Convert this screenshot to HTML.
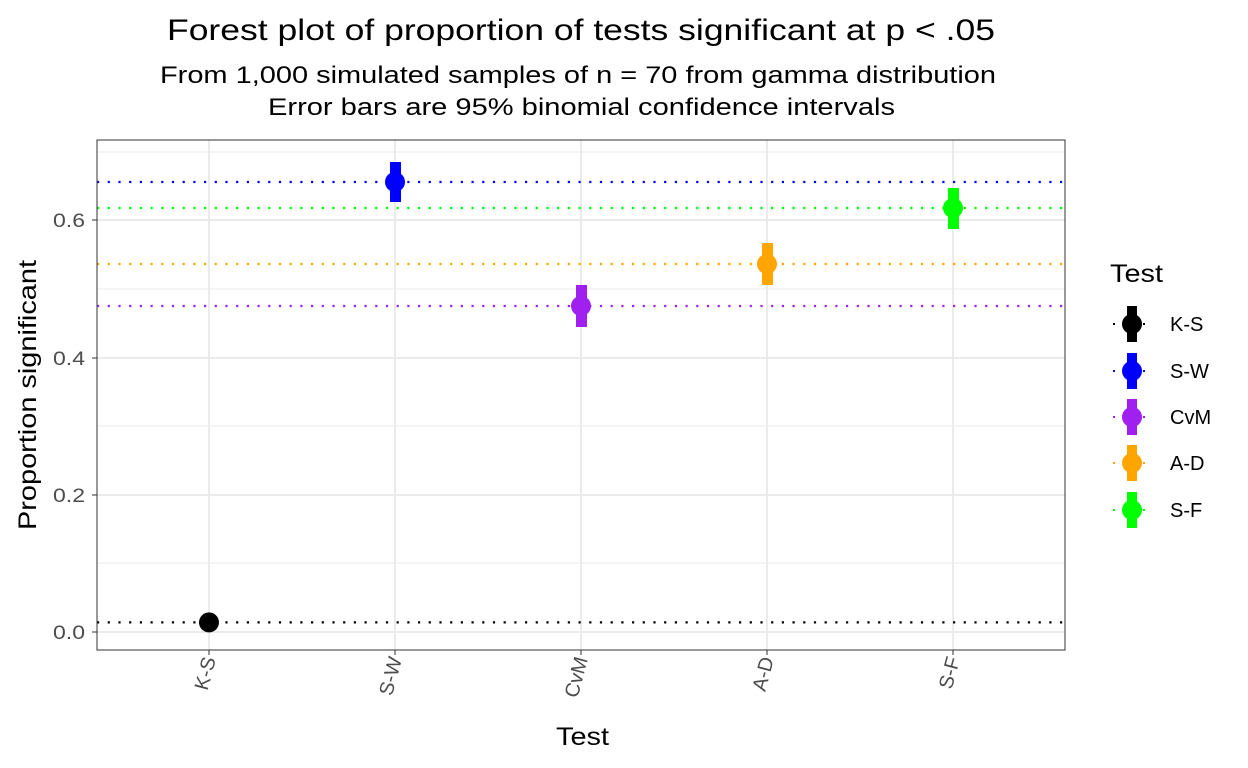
<!DOCTYPE html>
<html><head><style>body{margin:0;background:#fff}svg{display:block}text{font-family:"Liberation Sans",sans-serif}</style></head><body>
<svg width="1248" height="768" xmlns="http://www.w3.org/2000/svg">
<text x="167" y="40" font-size="30" textLength="828" lengthAdjust="spacingAndGlyphs">Forest plot of proportion of tests significant at p &lt; .05</text>
<text x="160" y="83" font-size="24" textLength="836" lengthAdjust="spacingAndGlyphs">From 1,000 simulated samples of n = 70 from gamma distribution</text>
<text x="268" y="115" font-size="24" textLength="627" lengthAdjust="spacingAndGlyphs">Error bars are 95% binomial confidence intervals</text>
<g stroke="#ebebeb" stroke-width="1">
<line x1="97" x2="1065" y1="563" y2="563"/><line x1="97" x2="1065" y1="426" y2="426"/><line x1="97" x2="1065" y1="289" y2="289"/><line x1="97" x2="1065" y1="152" y2="152"/>
</g>
<g stroke="#ebebeb" stroke-width="2">
<line x1="97" x2="1065" y1="632" y2="632"/><line x1="97" x2="1065" y1="495" y2="495"/><line x1="97" x2="1065" y1="358" y2="358"/><line x1="97" x2="1065" y1="220" y2="220"/>
<line x1="209" x2="209" y1="140" y2="650"/><line x1="395" x2="395" y1="140" y2="650"/><line x1="581" x2="581" y1="140" y2="650"/><line x1="767" x2="767" y1="140" y2="650"/><line x1="953" x2="953" y1="140" y2="650"/>
</g>
<g stroke-width="2.2" stroke-dasharray="2.2,8.5">
<line x1="97" x2="1065" y1="622.4" y2="622.4" stroke="#000"/>
<line x1="97" x2="1065" y1="182" y2="182" stroke="#0000ff"/>
<line x1="97" x2="1065" y1="306" y2="306" stroke="#a020f0"/>
<line x1="97" x2="1065" y1="264" y2="264" stroke="#ffa500"/>
<line x1="97" x2="1065" y1="208" y2="208" stroke="#00ff00"/>
</g>
<rect x="97" y="140" width="968" height="510" fill="none" stroke="#333" stroke-width="1"/>
<rect x="204" y="617" width="10" height="11" fill="#000"/><circle cx="209" cy="622.4" r="10" fill="#000"/>
<rect x="390" y="162" width="11" height="40" fill="#0000ff"/><circle cx="395" cy="182" r="10" fill="#0000ff"/>
<rect x="576" y="285" width="11" height="42" fill="#a020f0"/><circle cx="581" cy="306" r="10" fill="#a020f0"/>
<rect x="762" y="243" width="11" height="42" fill="#ffa500"/><circle cx="767" cy="264" r="10" fill="#ffa500"/>
<rect x="948" y="188" width="11" height="41" fill="#00ff00"/><circle cx="953" cy="208" r="10" fill="#00ff00"/>
<g font-size="19" fill="#4d4d4d">
<text x="53" y="639" textLength="32" lengthAdjust="spacingAndGlyphs">0.0</text><text x="53" y="502" textLength="32" lengthAdjust="spacingAndGlyphs">0.2</text><text x="53" y="365" textLength="32" lengthAdjust="spacingAndGlyphs">0.4</text><text x="53" y="227" textLength="32" lengthAdjust="spacingAndGlyphs">0.6</text>
</g>
<g stroke="#333" stroke-width="1">
<line x1="92" x2="97" y1="632" y2="632"/><line x1="92" x2="97" y1="495" y2="495"/><line x1="92" x2="97" y1="358" y2="358"/><line x1="92" x2="97" y1="220" y2="220"/>
<line x1="209" x2="209" y1="650" y2="655"/><line x1="395" x2="395" y1="650" y2="655"/><line x1="581" x2="581" y1="650" y2="655"/><line x1="767" x2="767" y1="650" y2="655"/><line x1="953" x2="953" y1="650" y2="655"/>
</g>
<g font-size="20" fill="#4d4d4d" text-anchor="end">
<text transform="translate(216,659) rotate(-75)">K-S</text>
<text transform="translate(402,659) rotate(-75)">S-W</text>
<text transform="translate(588,659) rotate(-75)">CvM</text>
<text transform="translate(774,659) rotate(-75)">A-D</text>
<text transform="translate(960,659) rotate(-75)">S-F</text>
</g>
<text x="556" y="745" font-size="25" textLength="53" lengthAdjust="spacingAndGlyphs">Test</text>
<text transform="translate(36,530) rotate(-90)" font-size="25" textLength="270" lengthAdjust="spacingAndGlyphs">Proportion significant</text>
<text x="1110" y="282" font-size="25" textLength="53" lengthAdjust="spacingAndGlyphs">Test</text>
<g>
<g transform="translate(0,324)"><line x1="1112" x2="1152" stroke="#000" stroke-width="2" stroke-dasharray="2,8" stroke-dashoffset="-1"/><rect x="1127" y="-18" width="10" height="36" fill="#000"/><circle cx="1132" r="10" fill="#000"/><text x="1170" y="7" font-size="20">K-S</text></g>
<g transform="translate(0,371)"><line x1="1112" x2="1152" stroke="#0000ff" stroke-width="2" stroke-dasharray="2,8" stroke-dashoffset="-1"/><rect x="1127" y="-18" width="10" height="36" fill="#0000ff"/><circle cx="1132" r="10" fill="#0000ff"/><text x="1170" y="7" font-size="20">S-W</text></g>
<g transform="translate(0,417)"><line x1="1112" x2="1152" stroke="#a020f0" stroke-width="2" stroke-dasharray="2,8" stroke-dashoffset="-1"/><rect x="1127" y="-18" width="10" height="36" fill="#a020f0"/><circle cx="1132" r="10" fill="#a020f0"/><text x="1170" y="7" font-size="20">CvM</text></g>
<g transform="translate(0,463)"><line x1="1112" x2="1152" stroke="#ffa500" stroke-width="2" stroke-dasharray="2,8" stroke-dashoffset="-1"/><rect x="1127" y="-18" width="10" height="36" fill="#ffa500"/><circle cx="1132" r="10" fill="#ffa500"/><text x="1170" y="7" font-size="20">A-D</text></g>
<g transform="translate(0,510)"><line x1="1112" x2="1152" stroke="#00ff00" stroke-width="2" stroke-dasharray="2,8" stroke-dashoffset="-1"/><rect x="1127" y="-18" width="10" height="36" fill="#00ff00"/><circle cx="1132" r="10" fill="#00ff00"/><text x="1170" y="7" font-size="20">S-F</text></g>
</g>
</svg>
</body></html>
